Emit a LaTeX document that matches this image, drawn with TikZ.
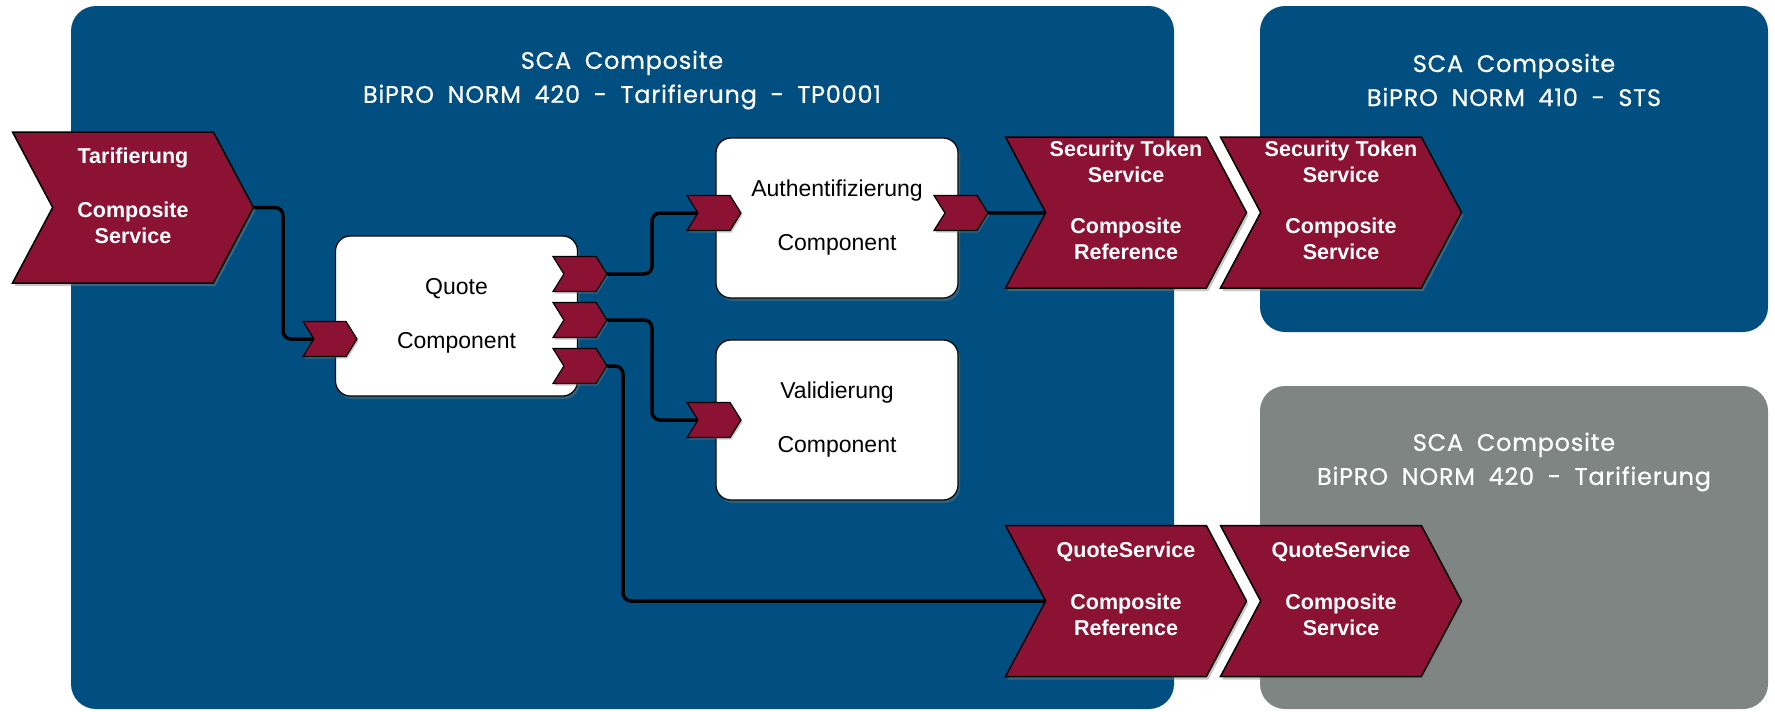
\documentclass[tikz,border=0pt]{standalone}
\usepackage{fontspec}
\setmainfont{Liberation Sans}
\newfontfamily\titlefont[LetterSpace=3.2, WordSpace=1.9, FakeBold=0.6]{Poppins}
\usetikzlibrary{shapes.symbols,shadows}
\definecolor{compblue}{RGB}{0,79,128}
\definecolor{compgray}{RGB}{126,133,131}
\definecolor{svcred}{RGB}{140,18,52}
\pgfdeclarelayer{bg}
\pgfdeclarelayer{wires}
\pgfsetlayers{bg,wires,main}
\tikzset{
    composite/.style = {
        rectangle,
        rounded corners=25pt,
        inner sep=0pt,
        fill=compblue},
    comptitle/.style = {
        align=center,
        text=white,
        font=\titlefont\fontsize{24}{34}\selectfont},
    service/.style = {
        signal,
        signal to=east,
        signal from=west,
        signal pointer angle=124,
        draw=black,
        line width=1.5pt,
        fill=svcred,
        minimum width=241pt,
        minimum height=151pt,
        inner sep=0pt,
        align=center,
        text=white,
        text depth=24pt,
        font=\bfseries\fontsize{21.5}{26}\selectfont,
        drop shadow={opacity=.45, shadow xshift=2pt, shadow yshift=-3pt}},
    port/.style = {
        signal,
        signal to=east,
        signal from=west,
        signal pointer angle=116,
        draw=black,
        line width=1.2pt,
        fill=svcred,
        minimum width=54pt,
        minimum height=35pt,
        inner sep=0pt,
        drop shadow={opacity=.4, shadow xshift=1.5pt, shadow yshift=-2pt}},
    component/.style = {
        rectangle,
        rounded corners=15pt,
        draw=black,
        line width=1.2pt,
        fill=white,
        minimum width=242pt,
        minimum height=160pt,
        align=center,
        font=\fontsize{23}{24}\selectfont,
        drop shadow={opacity=.35, shadow xshift=2pt, shadow yshift=-3pt}},
    wire/.style = {
        draw,
        line width=3.5pt,
        rounded corners=8pt}
}

\begin{document}
\begin{tikzpicture}[x=1pt, y=-1pt]
\useasboundingbox (0,0) rectangle (1775,712);

% SCA composites
\begin{pgfonlayer}{bg}
    \node [composite, minimum width=1103pt, minimum height=703pt] (tp) at (622.5,357.5) {};
    \node [composite, minimum width=508pt, minimum height=326pt] (sts) at (1514,169) {};
    \node [composite, fill=compgray, minimum width=508pt, minimum height=323pt] (tarifcomp) at (1514,547.5) {};
\end{pgfonlayer}

\node [comptitle] (tptitle) at (622,80) {SCA Composite\\BiPRO NORM 420 - Tarifierung - TP0001};
\node [comptitle] (ststitle) at (1514,80) {SCA Composite\\BiPRO NORM 410 - STS};
\node [comptitle] (tarifcomptitle) at (1514,462) {SCA Composite\\BiPRO NORM 420 - Tarifierung};

% components
\node [component] (quote) at (456.5,316) {Quote\\[30pt]Component};
\node [component] (auth)  at (837,218)   {Authentifizierung\\[30pt]Component};
\node [component] (valid) at (837,420)   {Validierung\\[30pt]Component};

% services and references
\node [service] (tarif)  at (133,207.5)  {Tarifierung\\[28pt]Composite\\Service};
\node [service] (stsref) at (1126,212.5) {Security Token\\Service\\[25pt]Composite\\Reference};
\node [service] (stssvc) at (1341,212.5) {Security Token\\Service\\[25pt]Composite\\Service};
\node [service] (qref)   at (1126,601)   {QuoteService\\[26pt]Composite\\Reference};
\node [service] (qsvc)   at (1341,601)   {QuoteService\\[26pt]Composite\\Service};

% ports
\node [port] (quotein)   at (330,339) {};
\node [port] (quoteout1) at (580,274) {};
\node [port] (quoteout2) at (580,320) {};
\node [port] (quoteout3) at (580,366) {};
\node [port] (authin)    at (714,213) {};
\node [port] (authout)   at (961,213) {};
\node [port] (validin)   at (714,420) {};

% wires
\begin{pgfonlayer}{wires}
    \draw [wire] (tarif.center) -- ++(150,0) |- (quotein.center);
    \draw [wire] (quoteout1.center) -- ++(72,0) |- (authin.center);
    \draw [wire] (quoteout2.center) -- ++(72,0) |- (validin.center);
    \draw [wire] (quoteout3.center) -- ++(43,0) |- (qref.center);
    \draw [wire] (authout.center) -- (stsref.center);
\end{pgfonlayer}

\end{tikzpicture}
\end{document}
